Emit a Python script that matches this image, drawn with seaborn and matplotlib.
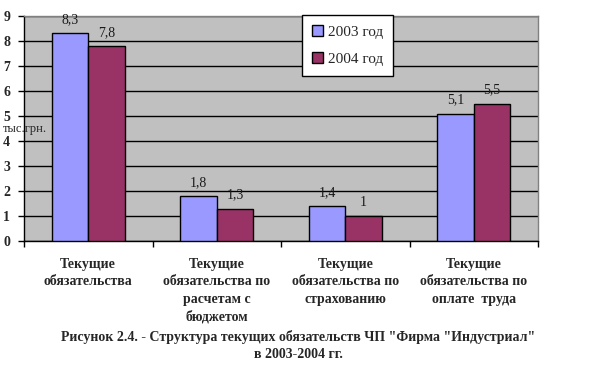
import pandas as pd
import matplotlib.pyplot as plt
import seaborn as sns

# Data
categories = ['Текущие\nобязательства',
              'Текущие\nобязательства по\nрасчетам с\nбюджетом',
              'Текущие\nобязательства по\nстрахованию',
              'Текущие\nобязательства по\nоплате  труда']
years = ['2003 год', '2004 год']
values_2003 = [8.3, 1.8, 1.4, 5.1]
values_2004 = [7.8, 1.3, 1.0, 5.5]
value_labels_2003 = ['8,3', '1,8', '1,4', '5,1']
value_labels_2004 = ['7,8', '1,3', '1', '5,5']

df = pd.DataFrame({
    'cat': categories * 2,
    'year': [years[0]] * 4 + [years[1]] * 4,
    'value': values_2003 + values_2004,
})

sns.set_style('white')
plt.rcParams['font.family'] = ['Liberation Serif', 'DejaVu Serif']

fig = plt.figure(figsize=(6.02, 3.74), dpi=100)
ax = fig.add_axes([24 / 602, 1 - 241 / 374, 514 / 602, 225 / 374])
ax.set_facecolor('#C0C0C0')

sns.barplot(data=df, x='cat', y='value', hue='year',
            palette=['#9999FF', '#993366'], width=0.57, saturation=1,
            edgecolor='black', linewidth=1, ax=ax, zorder=3)

# value labels
for cont, labs in zip(ax.containers, [value_labels_2003, value_labels_2004]):
    ax.bar_label(cont, labels=labs, padding=5, fontsize=10, color='#1a1a1a')

ax.set_ylim(0, 9)
ax.set_xlim(-0.5, 3.5)
ax.set_yticks(range(10))
ax.yaxis.grid(True, color='black', linewidth=1, zorder=1)
ax.set_axisbelow(True)
ax.set_xlabel('')
ax.set_ylabel('')

ax.set_xticks([0, 1, 2, 3])
ax.set_xticklabels(categories, fontweight='bold', fontsize=10, linespacing=1.45, va='top')
ax.set_xticks([-0.5, 0.5, 1.5, 2.5, 3.5], minor=True)
ax.tick_params(axis='x', which='major', length=0, pad=12)
ax.tick_params(axis='x', which='minor', length=4, width=1, color='black', direction='out', bottom=True)
ax.tick_params(axis='y', length=4, width=1, color='black', direction='out', left=True, pad=6)
for t in ax.get_yticklabels():
    t.set_fontweight('bold')
    t.set_fontsize(10)

for s in ['left', 'bottom']:
    ax.spines[s].set_color('black')
    ax.spines[s].set_linewidth(1)
for s in ['top', 'right']:
    ax.spines[s].set_visible(True)
    ax.spines[s].set_color('#808080')
    ax.spines[s].set_linewidth(1)

leg = ax.legend(loc='upper left', bbox_to_anchor=(302 / 602, 1 - 15 / 374),
                bbox_transform=fig.transFigure, frameon=True, fancybox=False,
                edgecolor='black', framealpha=1, fontsize=11,
                handlelength=0.7, handleheight=0.7, handletextpad=0.35,
                labelspacing=0.9, borderpad=0.65, borderaxespad=0)
leg.get_frame().set_linewidth(1)
leg.set_zorder(5)

fig.text(3 / 602, 1 - 129 / 374, 'тыс.грн.', fontsize=9, va='center', ha='left', zorder=10)

fig.text(0.495, 1 - 337 / 374, 'Рисунок 2.4. - Структура текущих обязательств ЧП "Фирма "Индустриал"',
         ha='center', va='center', fontweight='bold', fontsize=10)
fig.text(0.495, 1 - 355 / 374, 'в 2003-2004 гг.', ha='center', va='center', fontweight='bold', fontsize=10)

fig.savefig('out.png', dpi=100)
plt.close()
